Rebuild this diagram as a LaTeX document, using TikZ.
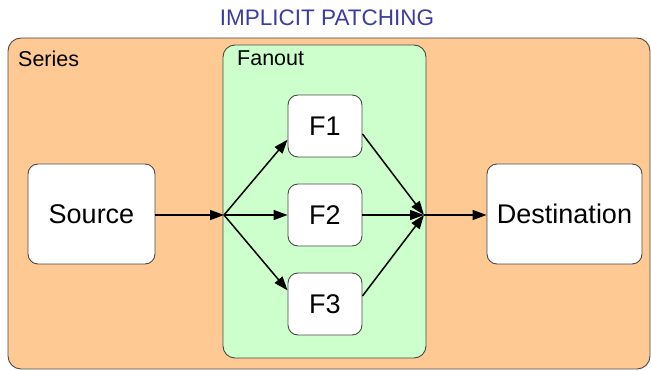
\documentclass[tikz,border=0pt]{standalone}
\usepackage{fontspec}
\setmainfont{Liberation Sans}
\usetikzlibrary{arrows.meta,calc}
\definecolor{seriesfill}{HTML}{FFC993}
\definecolor{fanfill}{HTML}{CCFFCC}
\definecolor{titleblue}{HTML}{3C3CA0}
\definecolor{edge}{HTML}{4A4A4A}
\begin{document}
\begin{tikzpicture}[x=1pt,y=-1pt,
  container/.style={draw=edge,line width=0.9pt,rounded corners=13pt,inner sep=0pt},
  boxnode/.style={draw=edge,line width=0.9pt,fill=white,rounded corners=10pt,inner sep=0pt,font=\fontsize{27}{30}\selectfont},
  lbl/.style={anchor=west,inner sep=0pt,font=\fontsize{21.5}{24}\selectfont},
  conn/.style={line width=1.5pt,-{Triangle[length=14pt,width=10pt]}},
  plain/.style={line width=1.5pt}]
\useasboundingbox (0,0) rectangle (651,371);
\node[font=\fontsize{22.5}{26}\selectfont,text=titleblue,inner sep=0pt] (title) at (327,18) {IMPLICIT PATCHING};
\node[container,fill=seriesfill,minimum width=642pt,minimum height=331pt] (series) at (329,203.5) {};
\node[lbl] (serieslbl) at (18,59) {Series};
\node[container,fill=fanfill,rounded corners=12pt,minimum width=203pt,minimum height=313pt] (fanout) at (324.5,201.5) {};
\node[lbl] (fanoutlbl) at (237,58) {Fanout};
\node[boxnode,minimum width=74pt,minimum height=62pt] (F1) at (325,126) {F1};
\node[boxnode,minimum width=74pt,minimum height=62pt] (F2) at (325,215) {F2};
\node[boxnode,minimum width=74pt,minimum height=62pt] (F3) at (325,304) {F3};
\node[boxnode,minimum width=127pt,minimum height=100pt] (src) at (91.5,214) {Source};
\node[boxnode,minimum width=155pt,minimum height=100pt] (dst) at (564.5,214) {Destination};
\coordinate (jl) at (224,215);
\coordinate (jr) at (424,215);
\draw[conn] (src.east |- jl) -- (jl);
\draw[conn] (jl) -- (F1.200);
\draw[conn] (jl) -- (F2.west);
\draw[conn] (jl) -- (F3.160);
\draw[conn] (F1.-12) -- (jr);
\draw[conn] (F2.east) -- (jr);
\draw[conn] (F3.12) -- (jr);
\draw[conn] (jr) -- (dst.west |- jr);
\end{tikzpicture}
\end{document}
